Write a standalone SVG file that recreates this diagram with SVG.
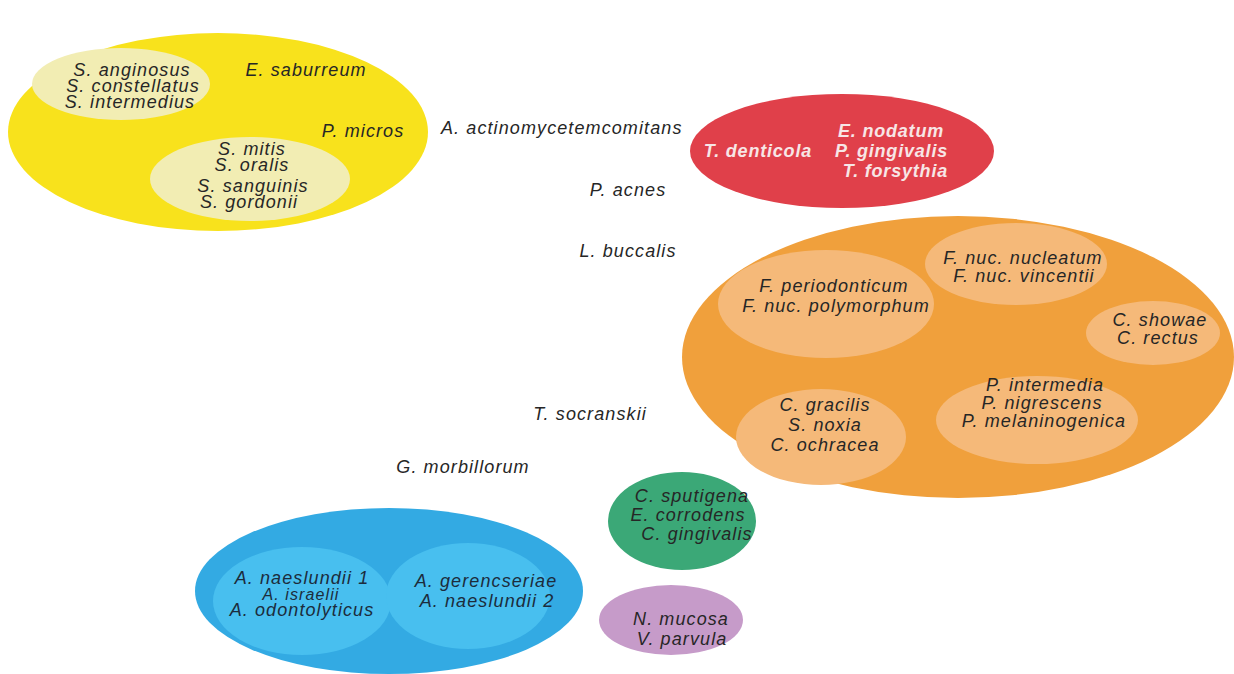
<svg xmlns="http://www.w3.org/2000/svg" width="1234" height="674" viewBox="0 0 1234 674">
<style>
text{font-family:"Liberation Sans",Arial,sans-serif;font-style:italic;font-size:18px;letter-spacing:1.1px;text-anchor:middle;fill:#262626}
.w{fill:#f7e6e6;font-weight:bold;letter-spacing:0.8px}
.b{fill:#1c2c3c}
.e{text-anchor:end}
.s{text-anchor:start}
</style>
<rect width="1234" height="674" fill="#ffffff"/>
<g id="yellow">
<ellipse cx="218" cy="132" rx="210" ry="99" fill="#f8e21c"/>
<ellipse cx="121" cy="84" rx="89" ry="36" fill="#f2edb3"/>
<ellipse cx="250" cy="179" rx="100" ry="42" fill="#f2edb3"/>
<text x="132" y="76">S. anginosus</text>
<text x="133" y="92">S. constellatus</text>
<text x="130" y="108">S. intermedius</text>
<text x="306" y="76">E. saburreum</text>
<text x="363" y="137">P. micros</text>
<text x="252" y="155">S. mitis</text>
<text x="252" y="171">S. oralis</text>
<text x="253" y="192">S. sanguinis</text>
<text x="249" y="208">S. gordonii</text>
</g>
<g id="red">
<ellipse cx="842" cy="151" rx="152" ry="57" fill="#e0404a"/>
<text class="w e" x="944" y="137">E. nodatum</text>
<text class="w e" x="812" y="157">T. denticola</text>
<text class="w e" x="948" y="157">P. gingivalis</text>
<text class="w e" x="948" y="177">T. forsythia</text>
</g>
<g id="labels">
<text class="s" x="441" y="134">A. actinomycetemcomitans</text>
<text x="628" y="196">P. acnes</text>
<text x="628" y="257">L. buccalis</text>
<text x="590" y="420">T. socranskii</text>
<text x="463" y="473">G. morbillorum</text>
</g>
<g id="orange">
<ellipse cx="958" cy="357" rx="276" ry="141" fill="#f0a03c"/>
<ellipse cx="826" cy="304" rx="108" ry="54" fill="#f5b979"/>
<ellipse cx="1016" cy="264" rx="91" ry="41" fill="#f5b979"/>
<ellipse cx="1153" cy="333" rx="67" ry="32" fill="#f5b979"/>
<ellipse cx="1037" cy="420" rx="101" ry="44" fill="#f5b979"/>
<ellipse cx="821" cy="437" rx="85" ry="48" fill="#f5b979"/>
<text x="834" y="292">F. periodonticum</text>
<text x="836" y="312">F. nuc. polymorphum</text>
<text x="1023" y="264">F. nuc. nucleatum</text>
<text x="1024" y="282">F. nuc. vincentii</text>
<text x="1160" y="326">C. showae</text>
<text x="1158" y="344">C. rectus</text>
<text x="1045" y="391">P. intermedia</text>
<text x="1042" y="409">P. nigrescens</text>
<text x="1044" y="427">P. melaninogenica</text>
<text x="825" y="411">C. gracilis</text>
<text x="825" y="431">S. noxia</text>
<text x="825" y="451">C. ochracea</text>
</g>
<g id="green">
<ellipse cx="682" cy="521" rx="74" ry="49" fill="#3ba877"/>
<text x="692" y="502">C. sputigena</text>
<text x="688" y="521">E. corrodens</text>
<text x="697" y="540">C. gingivalis</text>
</g>
<g id="blue">
<ellipse cx="389" cy="591" rx="194" ry="83" fill="#33aae3"/>
<ellipse cx="302" cy="601" rx="89" ry="54" fill="#48bfef"/>
<ellipse cx="468" cy="596" rx="82" ry="53" fill="#48bfef"/>
<text class="b" x="302" y="584">A. naeslundii 1</text>
<text class="b" x="301" y="600" style="font-size:16px">A. israelii</text>
<text class="b" x="302" y="616">A. odontolyticus</text>
<text class="b" x="486" y="587">A. gerencseriae</text>
<text class="b" x="487" y="607">A. naeslundii 2</text>
</g>
<g id="purple">
<ellipse cx="671" cy="620" rx="72" ry="35" fill="#c69bc9"/>
<text x="681" y="625">N. mucosa</text>
<text x="682" y="645">V. parvula</text>
</g>
</svg>
